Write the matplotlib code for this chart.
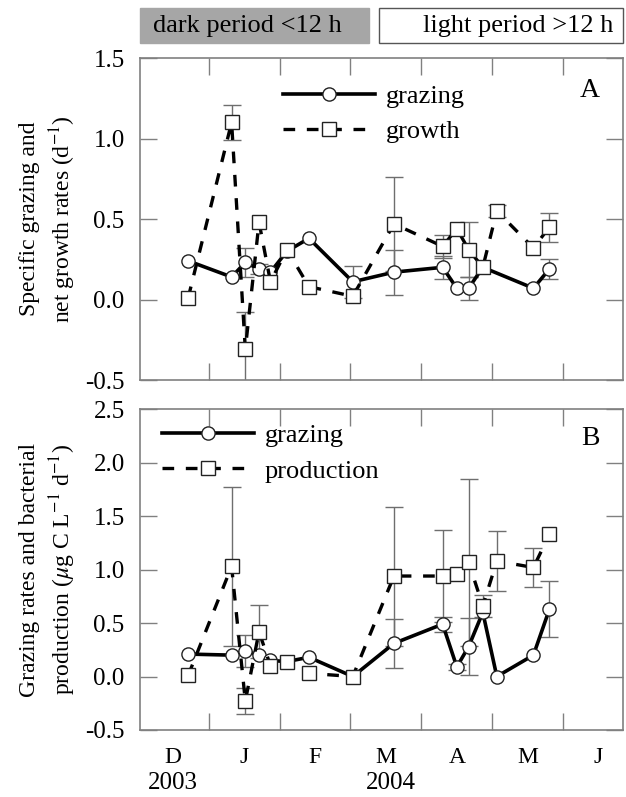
import numpy as np
import pandas as pd
import matplotlib
matplotlib.use('Agg')
import matplotlib.pyplot as plt
from matplotlib.patches import Rectangle

plt.rcParams['font.family'] = ['Liberation Serif', 'DejaVu Serif']
plt.rcParams['mathtext.fontset'] = 'stix'
plt.rcParams['axes.unicode_minus'] = False

# sampling dates
dates_all = ['2003-12-23', '2004-01-11', '2004-01-17', '2004-01-23', '2004-01-28',
             '2004-02-04', '2004-02-13', '2004-03-02', '2004-03-20', '2004-04-10',
             '2004-04-16', '2004-04-21', '2004-04-27', '2004-05-03', '2004-05-19',
             '2004-05-26']
dates_a_grazing = [d for d in dates_all if d != '2004-05-03']

# panel A: specific grazing and net growth rates (d-1)
grazing_a = [0.24, 0.14, 0.23, 0.19, 0.17, 0.30, 0.38, 0.11, 0.17, 0.20, 0.07, 0.07, 0.20, 0.07, 0.19]
grazing_a_err = [0, 0, 0.09, 0.03, 0, 0, 0, 0.10, 0.14, 0.07, 0, 0.07, 0, 0, 0.06]
growth_a = [0.01, 1.10, -0.31, 0.48, 0.11, 0.31, 0.08, 0.02, 0.47, 0.33, 0.44, 0.31, 0.20, 0.55, 0.32, 0.45]
growth_a_err = [0, 0.11, 0.23, 0, 0, 0, 0, 0, 0.29, 0.07, 0, 0.17, 0, 0.04, 0, 0.09]

# panel B: grazing rates and bacterial production (ug C L-1 d-1)
grazing_b = [0.21, 0.20, 0.24, 0.20, 0.15, 0.14, 0.18, 0.00, 0.31, 0.49, 0.09, 0.28, 0.60, 0.00, 0.20, 0.63]
grazing_b_err = [0, 0, 0.15, 0, 0, 0, 0, 0, 0.23, 0.07, 0.03, 0.27, 0, 0, 0, 0.26]
production_b = [0.01, 1.03, -0.23, 0.42, 0.10, 0.14, 0.03, 0.00, 0.94, 0.94, 0.96, 1.07, 0.66, 1.08, 1.02, 1.33]
production_b_err = [0, 0.74, 0.12, 0.25, 0, 0, 0, 0, 0.65, 0.43, 0, 0.78, 0.10, 0.28, 0.18, 0]

month_labels = ['D', 'J', 'F', 'M', 'A', 'M', 'J']


def month_pos(dates):
    # Dec 2003 = 0, Jan 2004 = 1, ... fraction within the month
    d = pd.to_datetime(pd.Series(dates))
    return ((d.dt.year - 2003) * 12 + d.dt.month - 12 + (d.dt.day - 1) / d.dt.days_in_month).to_numpy()


def draw_err(ax, x, y, err):
    x = np.asarray(x); y = np.asarray(y); err = np.asarray(err)
    m = err > 0
    ax.errorbar(x[m], y[m], yerr=err[m], fmt='none', ecolor='#6e6e6e',
                elinewidth=1.0, capsize=6.5, capthick=1.0, zorder=1)


def style_axes(ax, ylim, yticks):
    ax.set_xlim(0.03, 6.84)
    ax.set_ylim(*ylim)
    ax.set_yticks(yticks)
    ax.set_yticklabels(['%.1f' % t for t in yticks])
    ax.set_xticks(range(1, 7))
    ax.set_xticklabels([])
    ax.tick_params(axis='both', which='major', direction='in', length=12, width=1,
                   color='#808080', top=True, right=True, labelsize=18, pad=11)
    for s in ax.spines.values():
        s.set_color('#808080')
        s.set_linewidth(1.2)


fig = plt.figure(figsize=(6.26, 7.97), dpi=100)
axA = fig.add_axes([0.2236, 0.5232, 0.7711, 0.404])
axB = fig.add_axes([0.2236, 0.0841, 0.7711, 0.4024])

line_kw = dict(color='k', lw=2.6, marker='o', ms=9.5, mfc='white', mec='#222222', mew=1.0)
dash_kw = dict(color='k', lw=2.4, dashes=(3.5, 3.5), marker='s', ms=9.5, mfc='white', mec='#222222', mew=1.0)

# panel A
xg = month_pos(dates_a_grazing)
xs = month_pos(dates_all)
draw_err(axA, xg, grazing_a, grazing_a_err)
draw_err(axA, xs, growth_a, growth_a_err)
axA.plot(xg, grazing_a, zorder=3, label='grazing', **line_kw)
axA.plot(xs, growth_a, zorder=4, label='growth', **dash_kw)
style_axes(axA, (-0.5, 1.5), [-0.5, 0.0, 0.5, 1.0, 1.5])
axA.legend(loc='upper left', bbox_to_anchor=(0.296, 0.918), frameon=False, handlelength=3.5,
           handletextpad=0.4, borderpad=0, borderaxespad=0, labelspacing=0.45,
           fontsize=19, numpoints=1)
axA.text(0.932, 0.90, 'A', transform=axA.transAxes, fontsize=20, ha='center', va='center')
axA.set_ylabel('Specific grazing and\nnet growth rates (d$^{-1}$)', fontsize=17, linespacing=1.35)
axA.yaxis.set_label_coords(-0.128, 0.5)

# panel B
draw_err(axB, xs, grazing_b, grazing_b_err)
draw_err(axB, xs, production_b, production_b_err)
axB.plot(xs, grazing_b, zorder=3, label='grazing', **line_kw)
axB.plot(xs, production_b, zorder=4, label='production', **dash_kw)
style_axes(axB, (-0.5, 2.5), [-0.5, 0.0, 0.5, 1.0, 1.5, 2.0, 2.5])
axB.legend(loc='upper left', bbox_to_anchor=(0.045, 0.955), frameon=False, handlelength=3.5,
           handletextpad=0.4, borderpad=0, borderaxespad=0, labelspacing=0.45,
           fontsize=19, numpoints=1)
axB.text(0.934, 0.91, 'B', transform=axB.transAxes, fontsize=20, ha='center', va='center')
axB.set_ylabel('Grazing rates and bacterial\nproduction ($\\mu$g C L$^{-1}$ d$^{-1}$)', fontsize=17,
               linespacing=1.35)
axB.yaxis.set_label_coords(-0.128, 0.5)

# month letters and years under panel B
axB.set_xticks(np.arange(len(month_labels)) + 0.5, minor=True)
axB.set_xticklabels(month_labels, minor=True)
axB.tick_params(axis='x', which='minor', length=0, labelsize=17, pad=12)
axB.text(0.5, -0.1668, '2003', transform=axB.get_xaxis_transform(), fontsize=18, ha='center', va='center')
axB.text(3.57, -0.1668, '2004', transform=axB.get_xaxis_transform(), fontsize=18, ha='center', va='center')

# light / dark period boxes
W, H = 626.0, 797.0
fig.patches.append(Rectangle((140 / W, 1 - 43 / H), 229 / W, 35 / H, transform=fig.transFigure,
                             fc='#a6a6a6', ec='#a6a6a6', lw=1))
fig.patches.append(Rectangle((379 / W, 1 - 43 / H), 244 / W, 35 / H, transform=fig.transFigure,
                             fc='white', ec='#555555', lw=1))
fig.text(153 / W, 1 - 26 / H, 'dark period <12 h', fontsize=19, ha='left', va='center')
fig.text(613 / W, 1 - 26 / H, 'light period >12 h', fontsize=19, ha='right', va='center')

fig.savefig('out.png', dpi=100)
